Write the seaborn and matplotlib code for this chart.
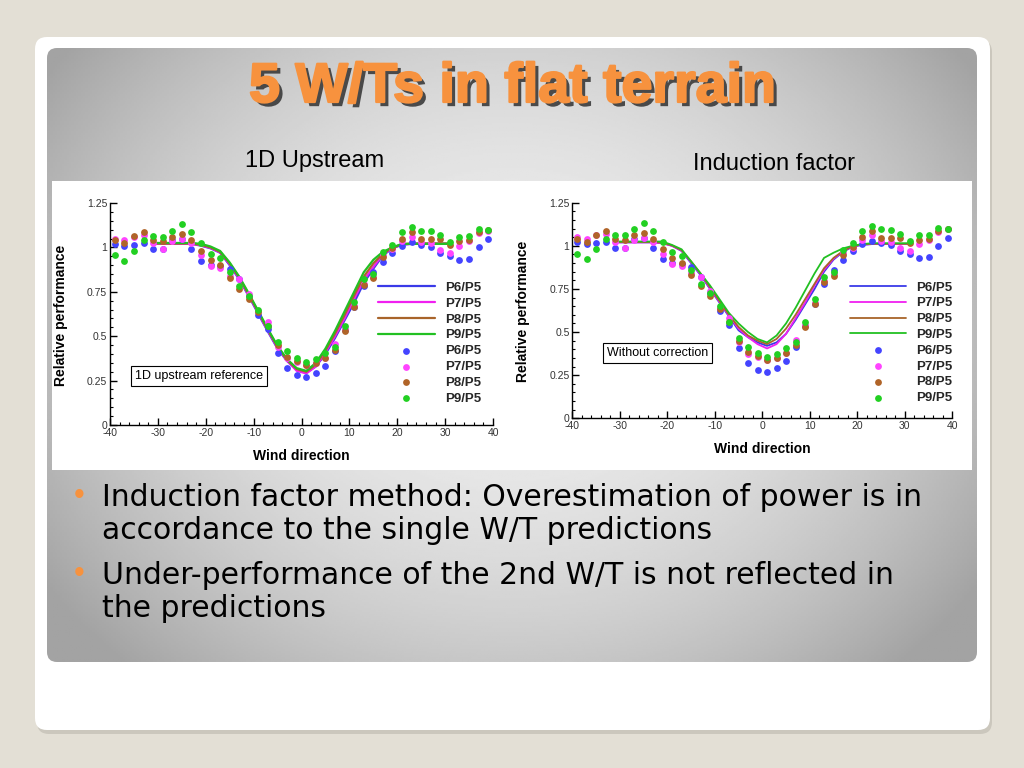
import numpy as np
import pandas as pd
import matplotlib
matplotlib.use("Agg")
import matplotlib.pyplot as plt
import matplotlib.patheffects as pe
import seaborn as sns
from matplotlib.patches import FancyBboxPatch, Rectangle
from matplotlib.ticker import MultipleLocator, FuncFormatter
from matplotlib.font_manager import FontProperties

# measured relative performance (same points on both charts)
wind_dir = [-39, -37, -35, -33, -31, -29, -27, -25, -23, -21, -19, -17, -15, -13, -11, -9, -7, -5, -3, -1,
            1, 3, 5, 7, 9, 11, 13, 15, 17, 19, 21, 23, 25, 27, 29, 31, 33, 35, 37, 39]
meas_p6 = [1.02, 1.01, 1.015, 1.025, 0.99, 0.99, 1.04, 1.045, 0.99, 0.925, 0.9, 0.895, 0.878, 0.82, 0.725, 0.62,
           0.54, 0.405, 0.32, 0.28, 0.27, 0.29, 0.33, 0.415, 0.535, 0.665, 0.78, 0.86, 0.92, 0.97,
           1.01, 1.03, 1.015, 1.005, 0.97, 0.95, 0.93, 0.935, 1.0, 1.045]
meas_p7 = [1.05, 1.04, 1.06, 1.07, 1.025, 0.99, 1.035, 1.045, 1.025, 0.955, 0.895, 0.885, 0.84, 0.82, 0.74, 0.64,
           0.58, 0.44, 0.375, 0.355, 0.34, 0.35, 0.38, 0.455, 0.54, 0.67, 0.795, 0.835, 0.96, 0.99,
           1.035, 1.06, 1.03, 1.025, 0.985, 0.97, 1.01, 1.035, 1.08, 1.095]
meas_p8 = [1.04, 1.025, 1.065, 1.085, 1.04, 1.035, 1.06, 1.075, 1.04, 0.98, 0.93, 0.9, 0.83, 0.765, 0.71, 0.635,
           0.56, 0.45, 0.385, 0.36, 0.34, 0.35, 0.38, 0.425, 0.53, 0.665, 0.79, 0.825, 0.945, 0.995,
           1.05, 1.085, 1.045, 1.045, 1.045, 1.015, 1.035, 1.04, 1.085, 1.1]
meas_p9 = [0.955, 0.925, 0.98, 1.04, 1.065, 1.06, 1.095, 1.13, 1.085, 1.025, 0.965, 0.94, 0.86, 0.78, 0.725, 0.65,
           0.56, 0.465, 0.415, 0.38, 0.355, 0.37, 0.405, 0.44, 0.56, 0.69, 0.82, 0.85, 0.975, 1.015,
           1.085, 1.115, 1.095, 1.09, 1.07, 1.03, 1.06, 1.065, 1.105, 1.1]

# predictions
model_dir = [-31, -29, -27, -25, -23, -21, -19, -17, -15, -13, -11, -9, -7, -5, -3, -1,
             1, 3, 5, 7, 9, 11, 13, 15, 17, 19, 21, 23, 25, 27, 29, 31]
upstream_p6 = [1.02, 1.02, 1.02, 1.02, 1.02, 1.01, 0.995, 0.97, 0.9, 0.82, 0.725, 0.625, 0.525, 0.43, 0.36, 0.31,
               0.295, 0.33, 0.4, 0.49, 0.59, 0.69, 0.8, 0.88, 0.955, 0.995, 1.015, 1.02, 1.02, 1.02, 1.02, 1.02]
upstream_p7 = [1.02, 1.02, 1.02, 1.02, 1.02, 1.012, 0.997, 0.972, 0.905, 0.825, 0.73, 0.63, 0.53, 0.435, 0.362, 0.305,
               0.29, 0.33, 0.41, 0.5, 0.6, 0.71, 0.815, 0.89, 0.96, 0.997, 1.017, 1.02, 1.02, 1.02, 1.02, 1.02]
upstream_p8 = [1.022, 1.022, 1.022, 1.022, 1.022, 1.015, 1.0, 0.975, 0.91, 0.83, 0.735, 0.635, 0.535, 0.44, 0.366, 0.315,
               0.3, 0.34, 0.42, 0.515, 0.62, 0.73, 0.835, 0.91, 0.965, 0.998, 1.018, 1.022, 1.022, 1.022, 1.022, 1.022]
upstream_p9 = [1.025, 1.025, 1.025, 1.025, 1.025, 1.02, 1.005, 0.98, 0.915, 0.835, 0.74, 0.64, 0.54, 0.445, 0.37, 0.32,
               0.305, 0.35, 0.43, 0.53, 0.64, 0.75, 0.86, 0.93, 0.975, 1.0, 1.02, 1.02, 1.02, 1.02, 1.02, 1.02]
induction_p6 = [1.02, 1.02, 1.02, 1.02, 1.02, 1.015, 1.0, 0.97, 0.9, 0.83, 0.75, 0.67, 0.59, 0.51, 0.47, 0.44,
                0.42, 0.44, 0.49, 0.57, 0.66, 0.75, 0.85, 0.92, 0.965, 0.995, 1.005, 1.01, 1.01, 1.01, 1.01, 1.01]
induction_p7 = [1.02, 1.02, 1.02, 1.02, 1.02, 1.015, 1.0, 0.972, 0.905, 0.835, 0.755, 0.675, 0.595, 0.52, 0.47, 0.43,
                0.405, 0.43, 0.49, 0.58, 0.67, 0.77, 0.86, 0.925, 0.968, 0.997, 1.007, 1.01, 1.01, 1.01, 1.01, 1.01]
induction_p8 = [1.022, 1.022, 1.022, 1.022, 1.022, 1.018, 1.002, 0.975, 0.91, 0.84, 0.76, 0.68, 0.6, 0.53, 0.48, 0.45,
                0.43, 0.46, 0.52, 0.6, 0.69, 0.78, 0.87, 0.93, 0.97, 0.998, 1.008, 1.012, 1.012, 1.012, 1.012, 1.012]
induction_p9 = [1.025, 1.025, 1.025, 1.025, 1.025, 1.025, 1.005, 0.98, 0.91, 0.84, 0.77, 0.69, 0.61, 0.55, 0.5, 0.46,
                0.44, 0.48, 0.55, 0.64, 0.74, 0.84, 0.93, 0.96, 0.985, 1.0, 1.01, 1.015, 1.015, 1.015, 1.015, 1.015]

series_names = ["P6/P5", "P7/P5", "P8/P5", "P9/P5"]
line_colors = ["#3a3ae8", "#f020f0", "#a8642a", "#22c022"]
dot_colors = ["#4444ff", "#ff44ff", "#b06428", "#22d022"]

bullets = ["Induction factor method: Overestimation of power is in\naccordance to the single W/T predictions",
           "Under-performance of the 2nd W/T is not reflected in\nthe predictions"]

sns.set_theme(style="white")
plt.rcParams["font.family"] = ["Liberation Sans", "DejaVu Sans"]

fig = plt.figure(figsize=(10.24, 7.68), dpi=100)

# slide background
bg = fig.add_axes([0, 0, 1, 1])
bg.set_xlim(0, 1024)
bg.set_ylim(768, 0)
bg.axis("off")
bg.add_patch(Rectangle((0, 0), 1024, 768, fc="#e3dfd5", ec="none"))
bg.add_patch(FancyBboxPatch((37, 40), 955, 694, boxstyle="round,pad=0,rounding_size=12",
                            fc="#cbc7bd", ec="none"))
bg.add_patch(FancyBboxPatch((35, 37), 955, 693, boxstyle="round,pad=0,rounding_size=12",
                            fc="white", ec="none"))
panel = FancyBboxPatch((47, 48), 930, 614, boxstyle="round,pad=0,rounding_size=10",
                       fc="none", ec="none")
bg.add_patch(panel)
gx, gy = np.meshgrid(np.linspace(47, 977, 400), np.linspace(48, 662, 300))
r2 = ((gx - 512) / 520) ** 2 + ((gy - 330) / 430) ** 2
shade = np.clip(0.93 - 0.25 * r2, 0.64, 1)
im = bg.imshow(shade, extent=(47, 977, 662, 48), cmap="gray", vmin=0, vmax=1,
               aspect="auto", zorder=2)
im.set_clip_path(panel)
bg.set_xlim(0, 1024)
bg.set_ylim(768, 0)
bg.add_patch(Rectangle((52, 181), 920, 289, fc="white", ec="none", zorder=3))

bg.text(512, 88, "5 W/Ts in flat terrain", ha="center", va="center", fontsize=40,
        fontweight="bold", color="#f7923e", zorder=4,
        path_effects=[pe.SimplePatchShadow(offset=(3, -3), shadow_rgbFace="#3a3a3a", alpha=0.9),
                      pe.Stroke(linewidth=1.6, foreground="#f7923e"),
                      pe.Normal()])
bg.text(315, 161, "1D Upstream", ha="center", va="center", fontsize=17, color="black", zorder=4)
bg.text(774, 164, "Induction factor", ha="center", va="center", fontsize=17, color="black", zorder=4)

for text, y in zip(bullets, [514, 592]):
    bg.text(79, y - 18, "\u2022", ha="center", va="center", fontsize=22, color="#f7923e", zorder=4)
    bg.text(102, y, text, ha="left", va="center", fontsize=21.5, color="black", zorder=4,
            family=["DejaVu Sans"], linespacing=1.2)


def draw_chart(ax, preds, box_text, box_xy, legend_anchor, lw):
    for name, vals, c in zip(series_names, preds, line_colors):
        sns.lineplot(x=model_dir, y=vals, color=c, lw=lw, ax=ax, label=name, sort=False, zorder=2)
    for name, vals, c in zip(series_names, [meas_p6, meas_p7, meas_p8, meas_p9], dot_colors):
        sns.scatterplot(x=wind_dir, y=vals, color=c, s=24, linewidth=0, ax=ax, label=name, zorder=3)

    ax.set_xlim(-40, 40)
    ax.set_ylim(0, 1.25)
    ax.set_facecolor("white")
    ax.xaxis.set_major_locator(MultipleLocator(10))
    ax.xaxis.set_minor_locator(MultipleLocator(2))
    ax.yaxis.set_major_locator(MultipleLocator(0.25))
    ax.yaxis.set_minor_locator(MultipleLocator(0.05))
    fmt = FuncFormatter(lambda v, p: f"{v:g}")
    ax.xaxis.set_major_formatter(fmt)
    ax.yaxis.set_major_formatter(fmt)
    ax.tick_params(which="major", direction="in", length=5, width=1, color="black",
                   labelsize=7.5, labelcolor="#333333", pad=2, left=True, bottom=True)
    ax.tick_params(which="minor", direction="in", length=2.5, width=0.8, color="black",
                   left=True, bottom=True)
    for s in ["top", "right"]:
        ax.spines[s].set_visible(False)
    for s in ["left", "bottom"]:
        ax.spines[s].set_color("black")
        ax.spines[s].set_linewidth(1)

    ax.set_xlabel("Wind direction", fontsize=10, fontweight="bold", color="black")
    ax.set_ylabel("Relative performance", fontsize=10, fontweight="bold", color="black")
    ax.xaxis.set_label_coords(0.5, -0.108)
    ax.yaxis.set_label_coords(-0.11, 0.495)

    ax.text(box_xy[0], box_xy[1], box_text, ha="center", va="center", fontsize=9, color="black",
            bbox=dict(boxstyle="square,pad=0.3", fc="white", ec="black", lw=0.8), zorder=4)

    ax.legend(loc="upper left", bbox_to_anchor=legend_anchor, frameon=False, borderpad=0,
              borderaxespad=0, handlelength=4.3, handletextpad=0.75, labelspacing=0.27,
              scatterpoints=1, prop=FontProperties(family="Liberation Sans", weight="bold", size=9.5))


ax1 = fig.add_axes([110 / 1024, (768 - 425) / 768, 383 / 1024, 222 / 768])
draw_chart(ax1, [upstream_p6, upstream_p7, upstream_p8, upstream_p9],
           "1D upstream reference", (-21.4, 0.276), (0.70, 0.645), 1.6)

ax2 = fig.add_axes([572.3 / 1024, (768 - 418.3) / 768, 380 / 1024, 215.6 / 768])
draw_chart(ax2, [induction_p6, induction_p7, induction_p8, induction_p9],
           "Without correction", (-22.1, 0.38), (0.73, 0.635), 1.3)

fig.savefig("out.png", dpi=100)
